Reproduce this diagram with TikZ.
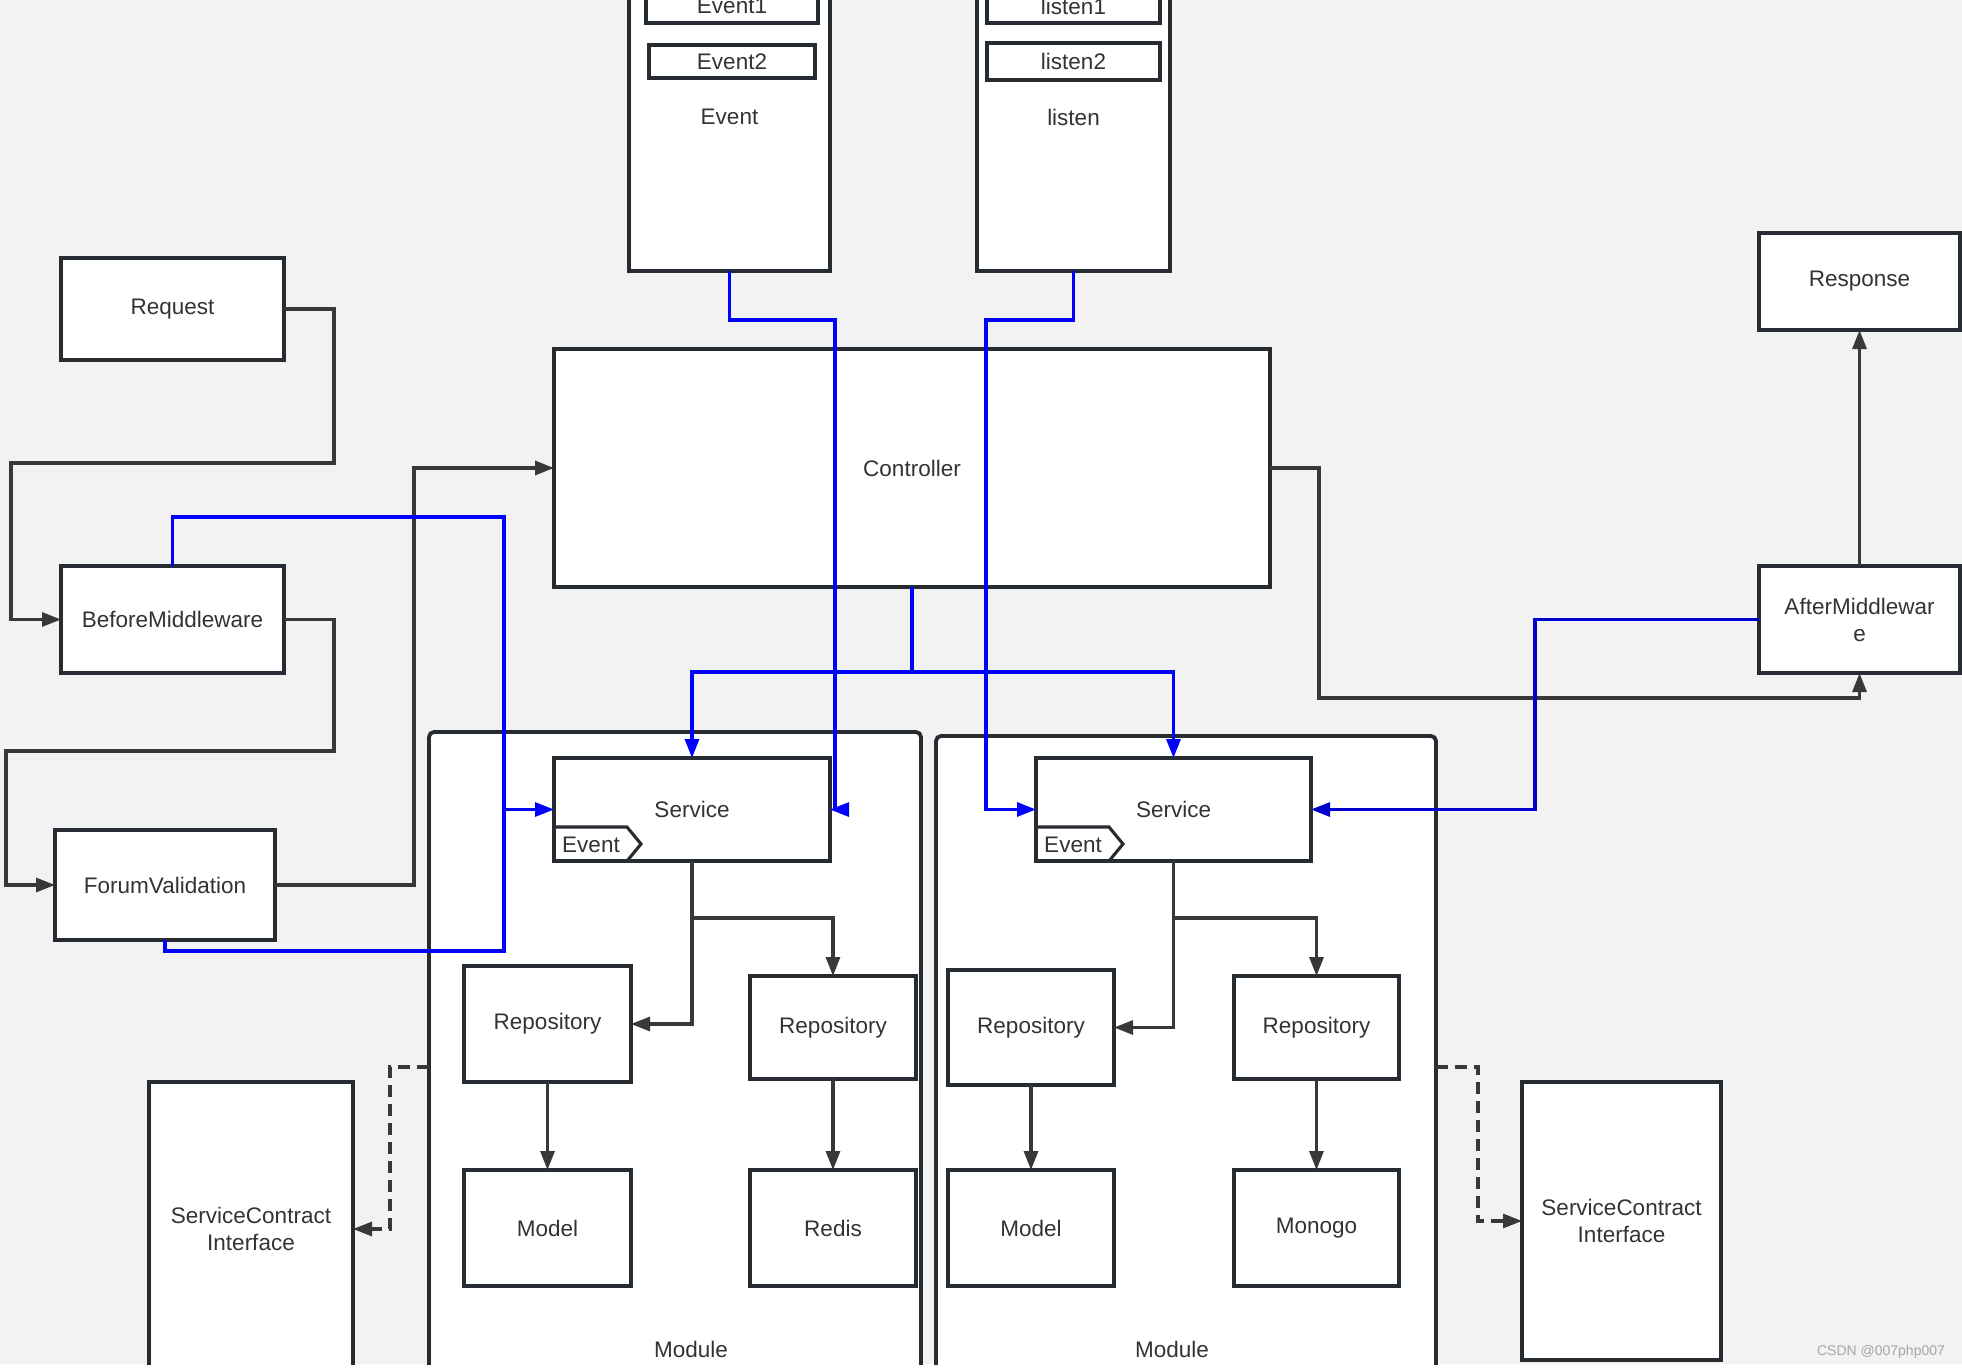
\documentclass[tikz,border=0pt]{standalone}
\usepackage{fontspec}
\setmainfont{Liberation Sans}
\usepackage{tikz}
\usetikzlibrary{arrows.meta, positioning}

\definecolor{bggray}{HTML}{F2F2F2}
\definecolor{boxline}{HTML}{262C31}
\definecolor{linegray}{HTML}{383838}
\definecolor{txtgray}{HTML}{333333}
\definecolor{amblue}{HTML}{0000CD}
\definecolor{markgray}{HTML}{A6A6A6}

\begin{document}
\begin{tikzpicture}[
    x=1pt, y=-1pt,
    font=\fontsize{22.5}{27}\selectfont,
    block/.style={rectangle, draw=boxline, line width=3.8pt, fill=white, text=txtgray, align=center, inner sep=2pt, outer sep=0pt},
    container/.style={rectangle, rounded corners=5pt, draw=boxline, line width=3.8pt, fill=white},
    arrow/.style={-{Triangle[length=19pt, width=14pt]}, line width=3.1pt, draw=linegray},
    bluearrow/.style={-{Triangle[length=19pt, width=14pt]}, line width=3.1pt, draw=blue},
    blueline/.style={line width=3.1pt, draw=blue},
    dasharrow/.style={arrow, dash pattern=on 12pt off 7pt}
]

\useasboundingbox (0,0) rectangle (1962,1369);
\fill[white] (0,0) rectangle (1962,1369);
\fill[bggray] (0,0) rectangle (1962,1364);
\clip (0,0) rectangle (1962,1364);

% event / listen stacks
\node[block, minimum width=201pt, minimum height=308pt] (ev) at (729.5,117) {Event};
\node[block, minimum width=172pt, minimum height=34pt] (ev1) at (732,6) {Event1};
\node[block, minimum width=166pt, minimum height=33pt] (ev2) at (732,61.5) {Event2};
\node[block, minimum width=193pt, minimum height=308pt] (ls) at (1073.5,117) {listen};
\node[block, minimum width=173pt, minimum height=34pt] (ls1) at (1073.5,6) {listen1};
\node[block, minimum width=173pt, minimum height=37pt] (ls2) at (1073.5,61.5) {listen2};

% request side
\node[block, minimum width=223pt, minimum height=102pt] (req) at (172.5,309) {Request};
\node[block, minimum width=223pt, minimum height=107pt] (bm) at (172.5,619.5) {BeforeMiddleware};
\node[block, minimum width=220pt, minimum height=110pt] (fv) at (165,885) {ForumValidation};

\node[block, minimum width=716pt, minimum height=238pt] (ctrl) at (912,468) {Controller};

% response side
\node[block, minimum width=201pt, minimum height=107pt] (am) at (1859.5,619.5) {AfterMiddlewar\\e};
\node[block, minimum width=201pt, minimum height=97pt, above=236pt of am] (resp) {Response};

% modules
\node[container, minimum width=492pt, minimum height=690pt] (mod1) at (675,1077) {};
\node[container, minimum width=500pt, minimum height=686pt] (mod2) at (1186,1079) {};
\node[text=txtgray] (mod1lbl) at (691,1349) {Module};
\node[text=txtgray] (mod2lbl) at (1172,1349) {Module};

\node[block, minimum width=276pt, minimum height=103pt] (s1) at (692,809.5) {Service};
\node[block, minimum width=275pt, minimum height=103pt] (s2) at (1173.5,809.5) {Service};
\draw[line width=3.1pt, draw=boxline] (s1.south west) ++(0,-34) -- ++(73,0) -- ++(14,17) -- ++(-14,17);
\draw[line width=3.1pt, draw=boxline] (s2.south west) ++(0,-34) -- ++(73,0) -- ++(14,17) -- ++(-14,17);
\node[text=txtgray] (tab1) at (591,845) {Event};
\node[text=txtgray] (tab2) at (1073,845) {Event};

\node[block, minimum width=167pt, minimum height=116pt] (r1a) at (547.5,1024) {Repository};
\node[block, minimum width=166pt, minimum height=103pt] (r1b) at (833,1027.5) {Repository};
\node[block, minimum width=167pt, minimum height=116pt, below=88pt of r1a] (m1) {Model};
\node[block, minimum width=166pt, minimum height=116pt, below=91pt of r1b] (redis) {Redis};

\node[block, minimum width=166pt, minimum height=115pt] (r2a) at (1031,1027.5) {Repository};
\node[block, minimum width=165pt, minimum height=103pt] (r2b) at (1316.5,1027.5) {Repository};
\node[block, minimum width=166pt, minimum height=116pt, below=85pt of r2a] (m2) {Model};
\node[block, minimum width=165pt, minimum height=116pt, below=91pt of r2b] (mono) {Monogo};

\node[block, minimum width=204pt, minimum height=294pt] (scl) at (251,1229) {ServiceContract\\Interface};
\node[block, minimum width=199pt, minimum height=278pt] (scr) at (1621.5,1221) {ServiceContract\\Interface};

\node[text=markgray, font=\fontsize{14}{16}\selectfont] (mark) at (1881,1352) {CSDN @007php007};

% turning points
\coordinate (rq1) at (334,463);
\coordinate (rq2) at (11,463);
\coordinate (bm1) at (334,751);
\coordinate (bm2) at (6,751);
\coordinate (fvturn) at (414,468);
\coordinate (ctturn) at (1319,698);
\coordinate (vtop) at (504,517);
\coordinate (vbot) at (504,951);
\coordinate (vjoin) at (504,809.5);
\coordinate (evturn) at (835,320);
\coordinate (lsturn) at (986,320);
\coordinate (amturn) at (1535,619.5);
\coordinate (d1) at (429,1067);
\coordinate (d1a) at (390,1067);
\coordinate (d2) at (1436,1067);
\coordinate (d2a) at (1478,1067);

% black flow
\draw[arrow] (req.east) -| (rq1) -- (rq2) |- (bm.west);
\draw[arrow] (bm.east) -| (bm1) -- (bm2) |- (fv.west);
\draw[arrow] (fv.east) -| (fvturn) -- (ctrl.west);
\draw[arrow] (ctrl.east) -| (ctturn) -| (am.south);
\draw[arrow] (am) -- (resp);

\draw[arrow] (s1.south) |- (r1a.east);
\draw[arrow] (s1.south) -- ++(0,57) -| (r1b.north);
\draw[arrow] (r1a) -- (m1);
\draw[arrow] (r1b) -- (redis);
\draw[arrow] (s2.south) |- (r2a.east);
\draw[arrow] (s2.south) -- ++(0,57) -| (r2b.north);
\draw[arrow] (r2a) -- (m2);
\draw[arrow] (r2b) -- (mono);

\draw[dasharrow] (d1) -- (d1a) |- (scl.east);
\draw[dasharrow] (d2) -- (d2a) |- (scr.west);

% blue flow
\draw[bluearrow] (ctrl.south) -- ++(0,85) -| (s1.north);
\draw[bluearrow] (ctrl.south) -- ++(0,85) -| (s2.north);
\draw[bluearrow] (ev.south) |- (evturn) |- (s1.east);
\draw[bluearrow] (ls.south) |- (lsturn) |- (s2.west);
\draw[blueline] (bm.north) |- (vtop) -- (vbot) -| (fv.south);
\draw[bluearrow] (vjoin) -- (s1.west);
\draw[bluearrow, draw=amblue] (am.west) -- (amturn) |- (s2.east);

\end{tikzpicture}
\end{document}
